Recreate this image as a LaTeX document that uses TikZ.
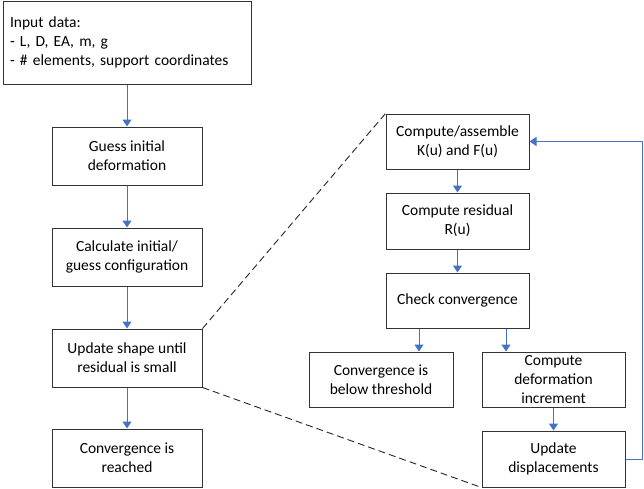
\documentclass[tikz,border=0pt]{standalone}
\usepackage{fontspec}
\setmainfont{Carlito}
\usetikzlibrary{arrows.meta,calc}
\definecolor{arrowblue}{HTML}{4472C4}
\begin{document}
\begin{tikzpicture}[x=1pt,y=-1pt,
  box/.style={draw=black!80,line width=1pt,rectangle,inner sep=2pt,align=center,
    font=\fontsize{15.5}{19.3}\selectfont},
  flow/.style={draw=arrowblue,line width=1pt,-{Triangle[width=9,length=7]}},
  zoomline/.style={draw=black!85,line width=0.9pt,dash pattern=on 7pt off 4pt}]
\useasboundingbox (0,0) rectangle (644,488);
\node[box,minimum width=248,minimum height=83,text width=234,align=left] (inp) at (127,42.5)
  {Input data:\\- L, D, EA, m, g\\- \# elements, support coordinates};
\node[box,minimum width=150,minimum height=58] (guess) at (127,156) {Guess initial\\deformation};
\node[box,minimum width=150,minimum height=58] (calc) at (127,257) {Calculate initial/\\guess configuration};
\node[box,minimum width=150,minimum height=58] (upd) at (127,358) {Update shape until\\residual is small};
\node[box,minimum width=150,minimum height=58] (conv) at (127,458) {Convergence is\\reached};
\node[box,minimum width=143,minimum height=55] (asm) at (457.5,141.5) {Compute/assemble\\K(u) and F(u)};
\node[box,minimum width=143,minimum height=56] (res) at (457.5,221) {Compute residual\\R(u)};
\node[box,minimum width=143,minimum height=55] (chk) at (457.5,300.5) {Check convergence};
\node[box,minimum width=144,minimum height=55] (below) at (381,379.5) {Convergence is\\below threshold};
\node[box,minimum width=143,minimum height=55] (defo) at (553.5,379.5) {Compute\\deformation\\increment};
\node[box,minimum width=143,minimum height=56] (disp) at (553.5,459) {Update\\displacements};
\draw[flow] (inp) -- (guess);
\draw[flow] (guess) -- (calc);
\draw[flow] (calc) -- (upd);
\draw[flow] (upd) -- (conv);
\draw[flow] (asm) -- (res);
\draw[flow] (res) -- (chk);
\draw[flow] ([xshift=-38.5]chk.south) -- ([xshift=-38.5]chk.south |- below.north);
\draw[flow] ([xshift=48.5]chk.south) -- ([xshift=48.5]chk.south |- defo.north);
\draw[flow] (defo) -- (disp);
\draw[flow] (disp.east) -- ++(17,0) |- (asm.east);
\draw[zoomline] (upd.north east) -- (asm.north west);
\draw[zoomline] (upd.south east) -- (disp.south west);
\end{tikzpicture}
\end{document}
